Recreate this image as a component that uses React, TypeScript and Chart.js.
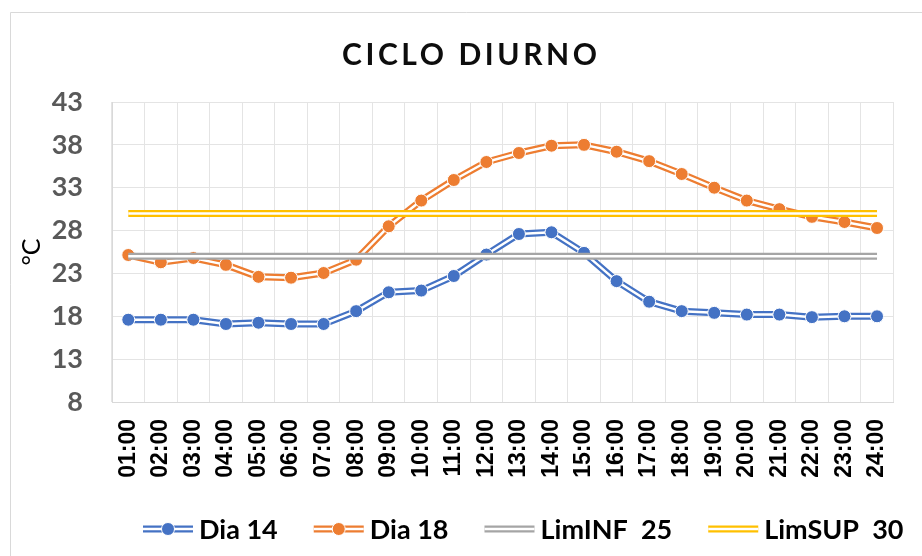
import { useEffect, useRef } from 'react';
import { Chart, registerables } from 'chart.js';

Chart.register(...registerables);

const hours = ['01:00', '02:00', '03:00', '04:00', '05:00', '06:00', '07:00', '08:00', '09:00', '10:00', '11:00', '12:00',
  '13:00', '14:00', '15:00', '16:00', '17:00', '18:00', '19:00', '20:00', '21:00', '22:00', '23:00', '24:00'];
const dia14 = [17.6, 17.6, 17.6, 17.1, 17.25, 17.1, 17.1, 18.6, 20.8, 21.0, 22.7, 25.2, 27.6, 27.8, 25.4, 22.1, 19.7, 18.6, 18.4, 18.2, 18.2, 17.9, 18.0, 18.0];
const dia18 = [25.15, 24.3, 24.8, 24.0, 22.6, 22.5, 23.05, 24.6, 28.5, 31.5, 33.9, 36.0, 37.05, 37.9, 38.0, 37.2, 36.1, 34.6, 33.0, 31.5, 30.5, 29.6, 29.0, 28.3];
const limInf = [25, 25, 25, 25, 25, 25, 25, 25, 25, 25, 25, 25, 25, 25, 25, 25, 25, 25, 25, 25, 25, 25, 25, 25];
const limSup = [30, 30, 30, 30, 30, 30, 30, 30, 30, 30, 30, 30, 30, 30, 30, 30, 30, 30, 30, 30, 30, 30, 30, 30];
const seriesLabels = ['Dia 14', 'Dia 18', 'LimINF  25', 'LimSUP  30'];
const titleText = 'CICLO DIURNO';
const yTitle = '°C';
const yMin = 8;
const yMax = 43;
const yStep = 5;

const BLUE = '#4472C4';
const ORANGE = '#ED7D31';
const GRAY = '#A5A5A5';
const YELLOW = '#FFC000';
const colors = [BLUE, ORANGE, GRAY, YELLOW];
const hasMarker = [true, true, false, false];

const LINE_W = 7;
const INNER_W = 2.5;
const MARK_R = 6.5;

function drawDouble(ctx: CanvasRenderingContext2D, x1: number, x2: number, y: number, color: string) {
  ctx.beginPath();
  ctx.moveTo(x1, y);
  ctx.lineTo(x2, y);
  ctx.lineWidth = LINE_W;
  ctx.strokeStyle = color;
  ctx.stroke();
  ctx.beginPath();
  ctx.moveTo(x1, y);
  ctx.lineTo(x2, y);
  ctx.lineWidth = INNER_W;
  ctx.strokeStyle = '#ffffff';
  ctx.stroke();
}

const decorPlugin = {
  id: 'decor',
  beforeDraw(chart: any) {
    const ctx = chart.ctx as CanvasRenderingContext2D;
    ctx.save();
    ctx.fillStyle = '#ffffff';
    ctx.fillRect(0, 0, chart.width, chart.height);
    ctx.strokeStyle = '#d9d9d9';
    ctx.lineWidth = 1;
    ctx.beginPath();
    ctx.moveTo(10.5, chart.height);
    ctx.lineTo(10.5, 12.5);
    ctx.lineTo(chart.width, 12.5);
    ctx.stroke();
    ctx.restore();
  },
  afterDraw(chart: any) {
    const ctx = chart.ctx as CanvasRenderingContext2D;
    // Title
    ctx.save();
    ctx.font = 'bold 30px Lato';
    const plain = ctx.measureText(titleText).width;
    const targetW = 255;
    const ls = (targetW - plain) / (titleText.length - 1);
    (ctx as any).letterSpacing = ls + 'px';
    ctx.textAlign = 'left';
    ctx.textBaseline = 'alphabetic';
    ctx.fillStyle = '#0d0d0d';
    ctx.fillText(titleText, 469.5 - targetW / 2, 65);
    ctx.restore();

    // Legend
    ctx.save();
    ctx.font = 'bold 27px Lato';
    ctx.textBaseline = 'alphabetic';
    ctx.textAlign = 'left';
    ctx.lineCap = 'butt';
    const iconW = 50;
    const gapText = 6;
    const gapItem = 36;
    const yC = 529;
    let x = 143;
    seriesLabels.forEach((lab, i) => {
      drawDouble(ctx, x, x + iconW, yC, colors[i]);
      if (hasMarker[i]) {
        ctx.beginPath();
        ctx.arc(x + iconW / 2, yC, MARK_R, 0, Math.PI * 2);
        ctx.fillStyle = colors[i];
        ctx.fill();
        ctx.lineWidth = 1;
        ctx.strokeStyle = '#ffffff';
        ctx.stroke();
      }
      x += iconW + gapText;
      ctx.fillStyle = '#000000';
      ctx.fillText(lab, x, 538.5);
      x += ctx.measureText(lab).width + gapItem;
    });
    ctx.restore();
  },
};

export default function App() {
  const ref = useRef<HTMLCanvasElement | null>(null);

  useEffect(() => {
    document.body.style.margin = '0';
    if (!ref.current) return;
    const lineDs = (data: number[], color: string, order: number) => ({
      data,
      borderColor: color,
      borderWidth: LINE_W,
      pointRadius: 0,
      borderJoinStyle: 'round' as const,
      tension: 0,
      fill: false,
      order,
    });
    const innerDs = (data: number[], order: number) => ({
      data,
      borderColor: '#ffffff',
      borderWidth: INNER_W,
      pointRadius: 0,
      borderJoinStyle: 'round' as const,
      tension: 0,
      fill: false,
      order,
    });
    const pointDs = (data: number[], color: string, order: number) => ({
      data,
      showLine: false,
      pointRadius: MARK_R,
      pointBackgroundColor: color,
      pointBorderColor: '#ffffff',
      pointBorderWidth: 1,
      order,
    });

    const chart = new Chart(ref.current, {
      type: 'line',
      data: {
        labels: hours,
        datasets: [
          { label: seriesLabels[0], ...lineDs(dia14, BLUE, 20) },
          { label: seriesLabels[0] + ' inner', ...innerDs(dia14, 19) },
          { label: seriesLabels[0] + ' points', ...pointDs(dia14, BLUE, 18) },
          { label: seriesLabels[1], ...lineDs(dia18, ORANGE, 17) },
          { label: seriesLabels[1] + ' inner', ...innerDs(dia18, 16) },
          { label: seriesLabels[1] + ' points', ...pointDs(dia18, ORANGE, 15) },
          { label: seriesLabels[2], ...lineDs(limInf, GRAY, 14) },
          { label: seriesLabels[2] + ' inner', ...innerDs(limInf, 13) },
          { label: seriesLabels[3], ...lineDs(limSup, YELLOW, 12) },
          { label: seriesLabels[3] + ' inner', ...innerDs(limSup, 11) },
        ] as any,
      },
      options: {
        responsive: false,
        animation: false,
        events: [],
        layout: { padding: { top: 102, right: 18, bottom: 0, left: 0 } },
        plugins: {
          legend: { display: false },
          title: { display: false },
          tooltip: { enabled: false },
        },
        scales: {
          x: {
            offset: true,
            grid: { display: true, offset: true, color: '#e4e4e4', drawTicks: false },
            border: { display: true, color: '#d9d9d9' },
            ticks: {
              autoSkip: false,
              minRotation: 90,
              maxRotation: 90,
              padding: 17,
              color: '#000000',
              font: { family: 'Liberation Sans', weight: 'bold', size: 23 },
            },
            afterFit: (s: any) => { s.height = 154; },
          },
          y: {
            min: yMin,
            max: yMax,
            grid: { color: '#e4e4e4', drawTicks: false },
            border: { display: true, color: '#d9d9d9' },
            ticks: {
              stepSize: yStep,
              padding: 29,
              color: '#595959',
              font: { family: 'Lato', weight: 'bold', size: 27 },
            },
            title: {
              display: true,
              text: yTitle,
              color: '#000000',
              padding: { top: 17, bottom: 0 },
              font: { family: 'Lato', size: 25 },
            },
            afterFit: (s: any) => { s.width = 112; },
          },
        },
      },
      plugins: [decorPlugin],
    });
    return () => chart.destroy();
  }, []);

  return (
    <div style={{ position: 'absolute', left: 0, top: 0, width: 922, height: 556 }}>
      <canvas ref={ref} width={922} height={556} />
    </div>
  );
}
